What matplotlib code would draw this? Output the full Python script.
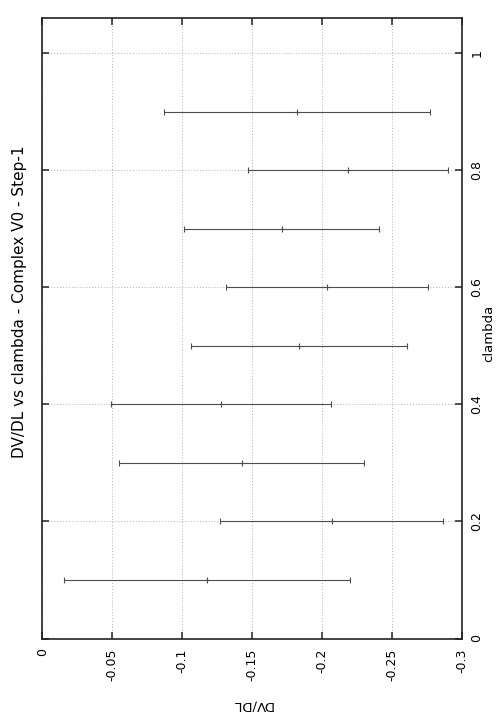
import matplotlib
matplotlib.use("Agg")
import matplotlib.pyplot as plt

clambda = [0.1, 0.2, 0.3, 0.4, 0.5, 0.6, 0.7, 0.8, 0.9]
dvdl = [-0.1179, -0.2069, -0.1424, -0.1279, -0.1834, -0.2034, -0.1710, -0.2184, -0.1819]
dvdl_err = [0.1022, 0.0797, 0.0874, 0.0785, 0.0772, 0.0724, 0.0696, 0.0714, 0.0950]

x_ticks = [0, -0.05, -0.1, -0.15, -0.2, -0.25, -0.3]
x_tick_labels = ["0", "-0.05", "-0.1", "-0.15", "-0.2", "-0.25", "-0.3"]
y_ticks = [0, 0.2, 0.4, 0.6, 0.8, 1.0]
y_tick_labels = ["0", "0.2", "0.4", "0.6", "0.8", "1"]

plt.rcParams["font.family"] = "DejaVu Sans"
plt.rcParams["axes.unicode_minus"] = False

W, H = 504, 720
fig = plt.figure(figsize=(W / 100, H / 100), dpi=100)
left, right = 42.3 / W, 462 / W
bottom, top = 1 - 638.5 / H, 1 - 18 / H
ax = fig.add_axes([left, bottom, right - left, top - bottom])

ax.errorbar(dvdl, clambda, xerr=dvdl_err, fmt="+", color="#4d4d4d",
            ecolor="#4d4d4d", elinewidth=0.8, capsize=1.9, capthick=0.8,
            markersize=5, markeredgewidth=0.8, zorder=3)

ax.set_xlim(0, -0.3)
ax.set_ylim(0, 1.06)

ax.set_xticks(x_ticks)
ax.set_xticklabels(x_tick_labels, rotation=90, fontsize=9)
ax.set_yticks(y_ticks)
ax.set_yticklabels(y_tick_labels, rotation=90, fontsize=9, va="center")

ax.yaxis.tick_right()
ax.tick_params(axis="both", direction="in", length=5, width=1.1,
               color="#222222", top=True, bottom=True, left=True, right=True,
               labelleft=False, labelright=True, labeltop=False, labelbottom=True)
ax.tick_params(axis="x", pad=7)
ax.tick_params(axis="y", pad=6)

for s in ax.spines.values():
    s.set_linewidth(1.2)
    s.set_color("#222222")

ax.grid(True, color="#b0b0b0", linestyle=(0, (1, 2)), linewidth=0.7)
ax.set_axisbelow(True)

fig.text(20 / W, 1 - 302 / H, "DV/DL vs clambda - Complex V0 - Step-1",
         rotation=90, ha="center", va="center", fontsize=11)
fig.text(489 / W, 1 - 333 / H, "clambda", rotation=90,
         ha="center", va="center", fontsize=9.5)
fig.text(252 / W, 1 - 705 / H, "DV/DL", rotation=180,
         ha="center", va="center", fontsize=9.5)

fig.savefig("out.png", dpi=100)
